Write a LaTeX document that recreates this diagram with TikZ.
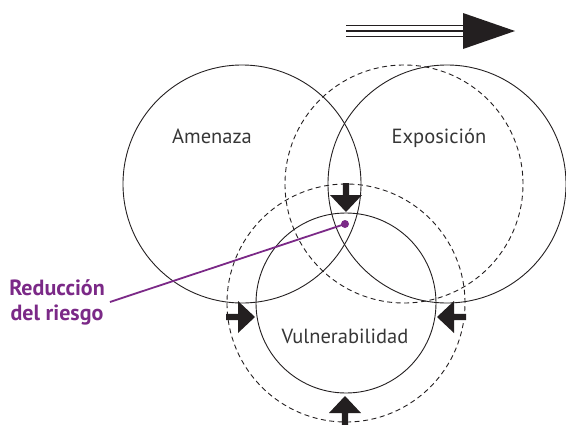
\documentclass[tikz,border=0pt]{standalone}
\usepackage{fontspec}
\setmainfont{PT Sans}
\usetikzlibrary{calc}
\definecolor{riesgo}{RGB}{123,41,135}
\definecolor{texto}{RGB}{55,55,55}
\definecolor{trazo}{RGB}{35,31,32}
\tikzstyle{zona}=[draw=trazo, circle, line width=0.9pt, inner sep=0, minimum size=238pt]
\tikzstyle{zonaprev}=[zona, dash pattern=on 5pt off 3.5pt]
\tikzstyle{etiqueta}=[text=texto, inner sep=0, anchor=base, font=\fontsize{20.5}{24}\selectfont]
\tikzstyle{flecha}=[fill=trazo]
\tikzset{empuje/.pic={
	\fill[flecha] (0,-3.2) -- (12,-3.2) -- (12,-16) -- (29,0) -- (12,16) -- (12,3.2) -- (0,3.2) -- cycle;
}}

\begin{document}
\begin{tikzpicture}[x=1pt, y=-1pt]
	\useasboundingbox (0,0) rectangle (566,424);
	% circulos
	\node[zona] (amenaza) at (242,184) {};
	\node[zonaprev] (exppre) at (404,184) {};
	\node[zona] (exposicion) at (447,184) {};
	\node[zonaprev] (vulpre) at (346,303) {};
	\node[zona, minimum size=180pt] (vulnerabilidad) at (346,303) {};
	% textos
	\node[etiqueta] (tamenaza) at (212,143) {Amenaza};
	\node[etiqueta] (texposicion) at (439,143) {Exposición};
	\node[etiqueta] (tvulnerabilidad) at (345,343) {Vulnerabilidad};
	% flechas de cambio
	\pic[rotate=-90] at (346,183) {empuje};
	\pic at (226,317) {empuje};
	\pic[rotate=180] at (466,317) {empuje};
	\pic[rotate=90] at (345,425) {empuje};
	% desplazamiento
	\foreach \y in {25.7,31,36.7}
		\draw[trazo, line width=1.4pt] (346,\y) -- (465,\y);
	\fill[flecha] (463,13) -- (515,31) -- (463,49) -- cycle;
	% reduccion del riesgo
	\node[circle, fill=riesgo, inner sep=0, minimum size=8pt] (punto) at (345,224) {};
	\node[text=riesgo, align=center, inner sep=5pt, font=\fontsize{22}{25}\selectfont\bfseries] (reduccion) at (57,302) {Reducción\\del riesgo};
	\draw[riesgo, line width=1.8pt] (punto.center) -- (reduccion.east);
\end{tikzpicture}
\end{document}
